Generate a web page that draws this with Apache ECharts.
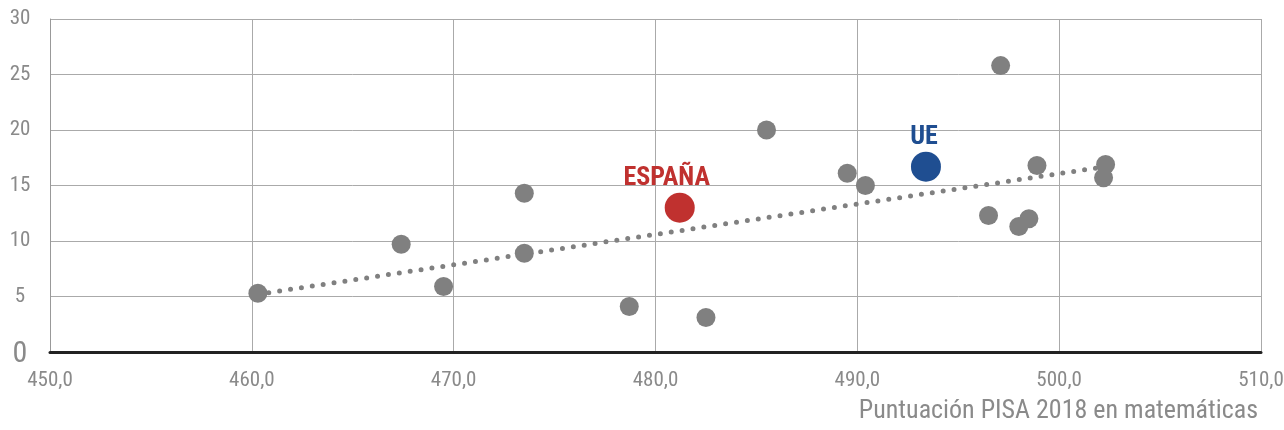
<!DOCTYPE html>
<html><head><meta charset="utf-8">
<script src="https://cdn.jsdelivr.net/npm/echarts@6/dist/echarts.min.js"></script>
<style>html,body{margin:0;padding:0;background:#fff}#c{width:1284px;height:430px}</style>
</head><body><div id="c"></div>
<script>
const countries = [
  [460.3, 5.3],[467.4, 9.7],[469.5, 5.9],[473.5, 14.3],[473.5, 8.9],
  [478.7, 4.1],[482.5, 3.1],[485.5, 20.0],[489.5, 16.1],[490.4, 15.0],
  [497.1, 25.8],[496.5, 12.3],[498.5, 12.0],[498.0, 11.3],[498.9, 16.8],
  [502.3, 16.9],[502.2, 15.7]
];
const spain = [[481.2, 13.0]];
const eu = [[493.4, 16.7]];
const trend = [[460.3, 5.2],[502.3, 16.7]];
const xTitle = 'Puntuación PISA 2018 en matemáticas';
const FONT = 'Roboto';
const COND = 'normal condensed';

const chart = echarts.init(document.getElementById('c'), null, {renderer:'canvas'});
chart.setOption({
  animation:false,
  grid:{left:50,right:23,top:19,bottom:78,containLabel:false,outerBoundsMode:'none'},
  graphic:[{type:'text',x:1258,y:411,z:10,silent:true,
    style:{text:xTitle,fill:'#8a8a8a',fontFamily:FONT,fontStyle:COND,fontSize:26,
      textAlign:'right',textVerticalAlign:'middle'}}],
  xAxis:{
    type:'value',min:450,max:510,interval:10,
    axisLine:{show:true,onZero:false,lineStyle:{color:'#222',width:3}},
    axisTick:{show:false},
    axisLabel:{color:'#8a8a8a',fontFamily:FONT,fontStyle:COND,fontSize:21,margin:18,
      formatter:v=>v.toFixed(1).replace('.',',')},
    splitLine:{show:true,lineStyle:{color:'#aaa',width:1}}
  },
  yAxis:{
    type:'value',min:0,max:30,interval:5,
    axisLine:{show:true,lineStyle:{color:'#999',width:1}},
    axisTick:{show:false},
    axisLabel:{color:'#8a8a8a',fontFamily:FONT,fontStyle:COND,fontSize:21,margin:30,align:'center',
      formatter:v=>v===0?'{z|0}':String(v),
      rich:{z:{fontSize:30,fontFamily:FONT,fontStyle:COND,color:'#8a8a8a',padding:[4,0,0,0]}}},
    splitLine:{show:true,lineStyle:{color:'#aaa',width:1}}
  },
  series:[
    {type:'line',data:trend,symbol:'none',z:1,
      lineStyle:{color:'#808080',width:5,type:[0,11],cap:'round'}},
    {type:'scatter',data:countries,symbolSize:19,z:2,itemStyle:{color:'#808080',opacity:1}},
    {type:'scatter',data:spain,symbolSize:30,z:3,itemStyle:{color:'#c0312f',opacity:1},
      label:{show:true,position:'top',distance:1,offset:[-13,0],formatter:'ESPAÑA',color:'#c0312f',
        fontFamily:FONT,fontStyle:COND,fontWeight:'bold',fontSize:26}},
    {type:'scatter',data:eu,symbolSize:30,z:3,itemStyle:{color:'#1f4e91',opacity:1},
      label:{show:true,position:'top',distance:1,offset:[-2,0],formatter:'UE',color:'#1f4e91',
        fontFamily:FONT,fontStyle:COND,fontWeight:'bold',fontSize:26}}
  ]
});
</script></body></html>
